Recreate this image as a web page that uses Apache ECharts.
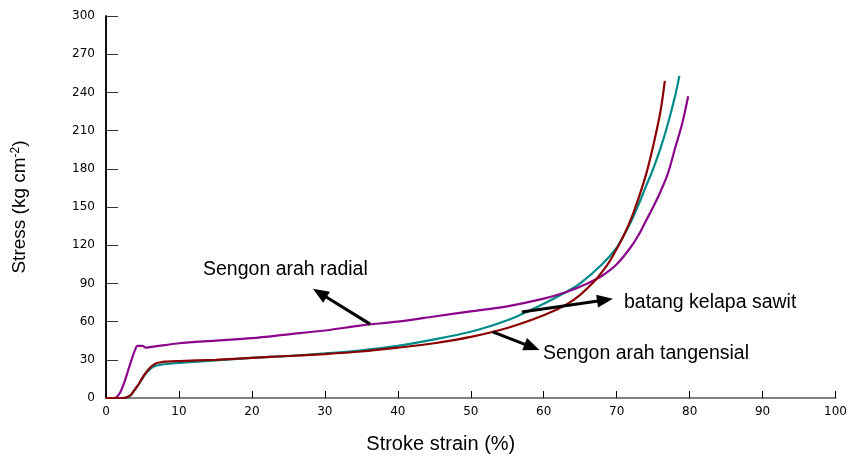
<!DOCTYPE html>
<html>
<head>
<meta charset="utf-8">
<script src="https://cdn.jsdelivr.net/npm/echarts@6/dist/echarts.min.js"></script>
<style>
  html, body { margin: 0; padding: 0; background: #fff; }
  #chart { width: 850px; height: 460px; }
</style>
</head>
<body>
<div id="chart"></div>
<script>
// Sengon arah radial (purple)
var radialX = [0, 1, 1.5, 2, 2.5, 3, 3.5, 4, 4.3, 5, 5.5, 6, 8, 10, 15, 20, 25, 30, 35, 40, 45, 50, 55, 60, 63, 66, 68, 70, 72, 73, 74, 75, 76, 77, 78, 79, 79.8];
var radialY = [0, 0, 1, 5, 12, 21, 30, 38, 41, 41, 39.5, 40, 41.5, 43, 45, 47, 50, 53, 57, 60, 64, 68, 72, 78, 83, 90, 96, 105, 119, 128, 139, 150, 162, 176, 196, 216, 237];

// batang kelapa sawit (teal)
var sawitX = [0, 2, 3, 3.5, 4, 4.5, 5, 5.5, 6, 6.5, 7, 8, 10, 15, 20, 25, 30, 35, 40, 45, 50, 55, 60, 63, 65, 68, 70, 71, 72, 73, 74, 75, 76, 77, 78, 78.6];
var sawitY = [0, 0, 0.5, 3, 7, 11, 15.5, 19.5, 22.5, 24.5, 25.5, 26.5, 27.5, 29.5, 31.5, 33, 35, 37.5, 41, 46, 52, 61, 74, 83, 90, 105, 118, 128, 139, 152, 166, 180, 196, 215, 237, 253];

// Sengon arah tangensial (dark red)
var tangX = [0, 2.5, 3, 3.5, 4, 4.5, 5, 5.5, 6, 6.5, 7, 7.5, 8, 10, 15, 20, 25, 30, 35, 40, 45, 50, 55, 60, 63, 65, 67, 68, 69, 70, 71, 72, 73, 74, 75, 76, 76.6];
var tangY = [0, 0, 1, 3, 7, 11, 16, 20, 23.5, 26, 27.5, 28, 28.5, 29, 30, 31.5, 33, 34.5, 36.5, 39.5, 43, 48, 55, 65, 73, 81, 92, 99, 107, 117, 128, 141, 157, 175, 198, 225, 249];

var xTicks = [0, 100, 10];
var yTicks = [0, 300, 30];

function pairs(xs, ys) {
  return xs.map(function (x, i) { return [x, ys[i]]; });
}

var chart = echarts.init(document.getElementById('chart'));
var sans = '"Liberation Sans", Arial, sans-serif';

var arrowStyle = {
  silent: true,
  symbol: ['none', 'triangle'],
  symbolSize: [13, 16],
  label: { show: false },
  lineStyle: { color: '#000', width: 3, type: 'solid' },
  animation: false
};

var option = {
  backgroundColor: '#fff',
  animation: false,
  grid: { left: 106, right: 13, top: 16, bottom: 62 },
  xAxis: [
    {
      type: 'value',
      min: xTicks[0],
      max: xTicks[1],
      interval: xTicks[2],
      name: 'Stroke strain (%)',
      nameLocation: 'middle',
      nameGap: 36,
      nameTextStyle: { fontFamily: sans, fontSize: 20, color: '#000', padding: [0, 60, 0, 0] },
      axisLine: { lineStyle: { color: '#000', width: 1.5 } },
      axisTick: { inside: true, length: 7, lineStyle: { color: '#000' } },
      axisLabel: { margin: 8, fontFamily: 'DejaVu Sans', fontSize: 12, color: '#000' },
      splitLine: { show: false }
    },
    {
      type: 'value',
      position: 'top',
      min: xTicks[0],
      max: xTicks[1],
      axisLine: { show: true, lineStyle: { color: '#999', width: 1.5 } },
      axisTick: { show: false },
      axisLabel: { show: false },
      splitLine: { show: false }
    }
  ],
  yAxis: [
    {
      type: 'value',
      min: yTicks[0],
      max: yTicks[1],
      interval: yTicks[2],
      name: 'Stress (kg cm{sup|-2})',
      nameLocation: 'middle',
      nameGap: 76,
      nameTextStyle: {
        fontFamily: sans,
        fontSize: 19,
        color: '#000',
        rich: { sup: { fontFamily: sans, fontSize: 12, verticalAlign: 'top', padding: [0, 0, 8, 0] } }
      },
      axisLine: { show: true, lineStyle: { color: '#000', width: 1.5 } },
      axisTick: { show: true, inside: true, length: 12, lineStyle: { color: '#333' } },
      axisLabel: { margin: 11, fontFamily: 'DejaVu Sans', fontSize: 12, color: '#000' },
      splitLine: { show: false }
    },
    {
      type: 'value',
      position: 'right',
      min: yTicks[0],
      max: yTicks[1],
      axisLine: { show: true, lineStyle: { color: '#000', width: 1.5 } },
      axisTick: { show: false },
      axisLabel: { show: false },
      splitLine: { show: false }
    }
  ],
  series: [
    {
      name: 'Sengon arah radial',
      type: 'line',
      data: pairs(radialX, radialY),
      showSymbol: false,
      smooth: 0.3,
      lineStyle: { color: '#8b068b', width: 2.2 },
      z: 3,
      markLine: Object.assign({}, arrowStyle, {
        data: [[{ coord: [36.2, 58] }, { coord: [29.3, 82.5] }]]
      })
    },
    {
      name: 'batang kelapa sawit',
      type: 'line',
      data: pairs(sawitX, sawitY),
      showSymbol: false,
      smooth: 0.3,
      lineStyle: { color: '#008b8b', width: 2.2 },
      z: 2,
      markLine: Object.assign({}, arrowStyle, {
        data: [[{ coord: [57, 67.6] }, { coord: [68.4, 77] }]]
      })
    },
    {
      name: 'Sengon arah tangensial',
      type: 'line',
      data: pairs(tangX, tangY),
      showSymbol: false,
      smooth: 0.3,
      lineStyle: { color: '#8b0000', width: 2.2 },
      z: 4,
      markLine: Object.assign({}, arrowStyle, {
        data: [[{ coord: [53, 52] }, { coord: [58.4, 40] }]]
      })
    }
  ],
  graphic: [
    { type: 'text', left: 203, top: 260, style: { text: 'Sengon arah radial', font: '19.5px ' + sans, fill: '#000' } },
    { type: 'text', left: 624, top: 293, style: { text: 'batang kelapa sawit', font: '19.5px ' + sans, fill: '#000' } },
    { type: 'text', left: 543, top: 344, style: { text: 'Sengon arah tangensial', font: '19.5px ' + sans, fill: '#000' } }
  ]
};

chart.setOption(option);
</script>
</body>
</html>
